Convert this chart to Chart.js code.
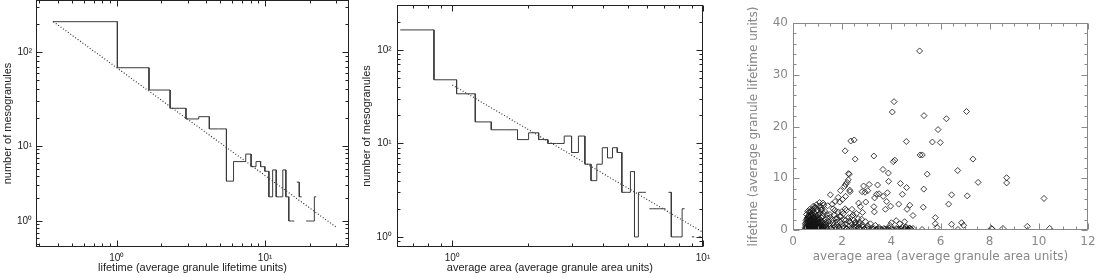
<!DOCTYPE html>
<html><head><meta charset="utf-8">
<script src="https://cdn.jsdelivr.net/npm/chart.js@4/dist/chart.umd.min.js"></script>
<style>
html,body{margin:0;padding:0;background:#fff;width:1101px;height:278px;overflow:hidden}
canvas{position:absolute;top:0}
</style></head><body>
<canvas id="c1" width="370" height="278" style="left:0"></canvas>
<canvas id="c2" width="375" height="278" style="left:355px"></canvas>
<canvas id="c3" width="361" height="278" style="left:740px"></canvas>
<script>
// ---------- DATA ----------
// Panel 1: lifetime histogram (bin edges, counts read against the axis)
const lifetimeEdges = [0.37,1.01,1.65,2.29,2.93,3.57,4.21,4.85,5.49,6.13,6.77,7.41,8.05,8.69,9.33,9.97,10.61,11.25,11.89,12.53,13.17,13.81,14.45,15.09,15.73,16.37,17.01,17.65,18.29,18.93,19.57,20.21,20.85,21.49,22.13];
const lifetimeCounts = [210,68,39.4,25.2,19.4,20.5,15.2,15.2,3.4,6.2,6.2,7.8,5.3,6.2,5.3,4.6,2.1,4.8,2.1,2.1,4.8,2.1,1,1,null,3.3,2.1,null,null,1,1,1,1,2.1];
const lifetimeFit = [[0.374,210],[30.6,0.81]];
// Panel 2: area histogram
const areaEdges = [0.62,0.845,1.04,1.235,1.43,1.625,1.82,2.015,2.21,2.405,2.6,2.795,2.99,3.185,3.38,3.575,3.77,3.965,4.16,4.355,4.55,4.745,4.94,5.135,5.33,5.525,5.72,5.915,6.11,6.305,6.5,6.695,6.89,7.085,7.28,7.475,7.67,7.865,8.06,8.255,8.45,8.645,8.84,9.035,9.23,9.425,9.62,9.815];
const areaCounts = [164,48,34,17,14,14,11,13,11,10,10,12,8,12,6,4,6,9,7,9,8,3,3,5,1,3,3,null,2,2,2,2,2,null,3,1,1,1,1,2,null,null,null,1,null,null,1];
const areaFit = [[1.0,42.3],[10,1.12]];
// Panel 3: scatter lifetime vs area
const scatterArea = [5.15,4.11,4.04,5.33,6.24,7.06,5.9,5.99,5.67,4.61,2.35,2.49,2.12,2.53,3.29,4.08,4.14,5.17,5.26,7.32,3.66,3.88,5.46,6.7,7.53,8.69,8.69,10.21,7.09,6.45,6.33,5.32,5.3,4.62,4.37,4.45,4.3,4.75,4.64,4.88,5.79,5.79,5.86,6.45,6.86,6.94,6.71,5.25,8.07,8.1,8.54,9.53,10.44,3.89,3.84,3.67,3.5,3.4,3.81,3.97,3.76,3.44,3.1,2.87,3.04,2.93,2.81,2.96,3.32,3.29,3.31,2.67,2.74,2.83,2.79,2.58,2.4,2.47,2.54,2.71,2.29,2.25,2.25,2.2,2.14,2.09,2.14,2.31,2.32,2.01,1.93,1.84,1.9,2.12,2.17,1.94,1.74,1.52,1.71,1.6,1.41,1.22,1.13,1.25,1.84,1.63,0.9,0.8,0.71,0.61,1.0,
4.2,4.34,4.54,4.6,4.74,4.88,4.0,3.95,4.45,
0.50,0.52,0.55,0.58,0.6,0.62,0.65,0.67,0.7,0.72,0.75,0.77,0.8,0.82,0.85,0.87,0.9,0.92,0.95,0.97,1.0,1.02,1.05,1.08,1.1,1.12,1.15,1.18,1.2,1.25,1.28,1.3,1.33,1.36,1.4,1.45,1.48,1.5,1.55,1.6,1.65,1.7,1.75,1.8,1.85,1.9,1.95,2.0,2.05,2.1,2.15,2.2,2.25,2.3,2.35,2.4,2.45,2.5,2.55,2.6,2.65,2.7,2.8,2.9,2.95,3.0,3.1,3.15,3.2,3.3,3.35,3.45,3.5,3.6,3.7,3.8,3.9,4.0,4.1,4.2,4.3,4.4,4.5,4.6,4.7,4.8,
0.5,0.5,0.53,0.55,0.57,0.6,0.6,0.63,0.63,0.65,0.66,0.68,0.68,0.7,0.7,0.72,0.73,0.75,0.75,0.78,0.78,0.8,0.8,0.83,0.83,0.85,0.86,0.88,0.88,0.9,0.93,0.93,0.95,0.98,0.98,1.0,1.0,1.03,1.05,1.07,1.1,1.13,1.15,1.17,1.2,1.22,1.25,1.27,1.3,1.35,1.38,1.42,1.44,1.5,1.52,1.58,1.62,1.67,1.72,1.78,1.82,1.88,1.92,1.98,2.03,2.08,2.12,2.18,2.28,2.33,2.38,2.48,2.52,2.58,2.68,2.75,2.85,2.92,3.05,3.25,3.4,3.55,3.75,3.85,4.05,4.25,4.35,4.55,4.65,4.75,
0.52,0.54,0.56,0.58,0.59,0.61,0.62,0.64,0.64,0.66,0.67,0.69,0.7,0.71,0.73,0.74,0.76,0.76,0.79,0.81,0.81,0.84,0.86,0.87,0.89,0.91,0.92,0.94,0.96,0.97,0.99,1.01,1.04,1.06,1.09,1.11,1.14,1.16,1.19,1.23,0.55,0.6,0.68,0.74,0.83,0.96,1.08,1.15];
const scatterLife = [34.6,24.8,22.8,22.1,21.5,22.9,19.4,16.9,17.0,17.1,17.2,17.4,15.3,13.7,14.3,13.2,13.5,14.5,14.5,13.7,11.7,11.0,10.8,11.5,9.2,10.1,9.1,6.1,6.6,6.8,5.0,7.9,4.4,8.2,9.0,6.9,5.0,4.8,4.0,2.8,2.4,1.2,0.5,1.1,1.4,0.9,0.1,0.1,0.3,0.2,0.3,0.7,0.3,9.4,7.2,6.5,7.0,6.9,5.5,4.6,4.0,8.7,8.8,8.5,7.6,7.3,7.4,5.4,6.2,4.5,3.5,5.2,4.5,3.4,2.1,3.2,4.0,1.9,1.5,1.5,10.8,10.9,9.7,9.2,8.8,8.4,6.5,7.7,7.4,5.9,7.6,6.3,5.4,4.1,3.8,2.6,2.2,6.8,5.5,5.0,4.7,5.2,3.9,3.2,3.5,4.1,4.4,3.8,3.5,2.5,2.9,
1.8,1.2,1.6,0.6,0.4,0.3,1.4,0.9,0.5,
0.1,0.3,0.6,0.2,1.0,0.4,1.5,0.1,0.8,2.0,0.3,1.2,0.6,2.5,0.2,1.7,0.9,3.0,0.4,1.4,0.2,2.2,0.7,1.1,3.3,0.3,1.8,0.5,2.7,1.0,0.2,3.6,1.5,0.6,2.3,0.2,1.2,3.0,0.4,2.0,0.9,3.8,0.3,1.6,0.6,2.6,0.2,1.1,3.2,0.5,1.9,0.2,2.4,0.8,1.4,0.3,2.9,0.6,1.0,0.2,2.2,0.4,0.9,0.2,1.6,0.4,0.2,1.2,0.1,0.3,0.9,0.2,0.5,0.1,0.3,0.1,0.4,0.2,0.1,0.3,0.1,0.2,0.1,0.3,0.1,0.2,
0.5,1.2,1.8,0.0,2.3,0.3,1.6,2.8,0.8,0.0,3.5,0.5,1.9,0.1,2.6,1.1,0.4,1.6,3.2,0.0,2.2,1.3,4.1,0.5,1.8,3.4,0.9,0.2,2.1,1.5,0.6,4.3,2.6,1.0,3.8,0.5,1.6,0.1,2.9,4.6,1.5,0.8,2.4,3.9,0.1,1.3,4.8,0.6,2.0,1.1,3.0,0.4,1.7,0.8,2.4,0.2,1.4,2.9,0.6,1.0,2.2,0.4,1.5,3.5,0.7,2.0,1.1,0.3,1.7,0.3,2.6,0.2,1.4,0.6,1.1,0.2,0.6,0.2,0.8,0.2,0.1,0.2,0.2,0.1,0.1,0.2,0.1,0.2,0.1,0.3,
0.9,1.4,2.0,0.7,1.3,2.2,0.0,1.1,1.9,0.6,2.4,1.3,0.5,1.7,2.9,0.9,0.1,2.0,1.5,0.3,2.9,1.1,2.3,0.4,1.4,0.1,2.0,1.2,0.3,2.4,0.8,1.9,0.4,1.4,2.1,0.6,1.0,0.2,1.6,0.7,3.0,3.6,4.0,3.6,4.6,4.9,5.3,4.4];

// ---------- HELPERS ----------
function histPoints(edges, counts){
  const pts=[];
  for(let i=0;i<counts.length;i++){
    const c=counts[i];
    if(c===null){ pts.push({x:edges[i],y:null}); continue; }
    pts.push({x:edges[i],y:c}); pts.push({x:edges[i+1],y:c});
  }
  return pts;
}
function logTicks(min,max){
  const t=[];
  for(let e=Math.floor(Math.log10(min));e<=Math.ceil(Math.log10(max));e++)
    for(let s=1;s<10;s++){const v=s*Math.pow(10,e); if(v>=min*0.999&&v<=max*1.001) t.push({value:v});}
  return t;
}
const sup={'-':'⁻','0':'⁰','1':'¹','2':'²','3':'³'};
function powLabel(v){const l=Math.log10(v); if(Math.abs(l-Math.round(l))<1e-6) return '10'+String(Math.round(l)).split('').map(c=>sup[c]).join(''); return '';}
function noPad(s){s.paddingTop=0;s.paddingBottom=0;s.paddingLeft=0;s.paddingRight=0;}

// piecewise log scale (reference axis decades are not evenly spaced)
class PwLogScale extends Chart.LogarithmicScale {
  _u(v){
    const k=this.options.knots, l=Math.log10(v);
    let i=0; while(i<k.length-2 && l>k[i+1][0]) i++;
    return k[i][1]+(l-k[i][0])/(k[i+1][0]-k[i][0])*(k[i+1][1]-k[i][1]);
  }
  getPixelForValue(v){ if(v===null||v===undefined||v<=0) return NaN; return this.getPixelForDecimal(this._u(v)); }
  getValueForPixel(p){
    const d=this.getDecimalForPixel(p), k=this.options.knots;
    let i=0; while(i<k.length-2 && d>k[i+1][1]) i++;
    return Math.pow(10,k[i][0]+(d-k[i][1])/(k[i+1][1]-k[i][1])*(k[i+1][0]-k[i][0]));
  }
}
PwLogScale.id='pwlog';
PwLogScale.defaults=Chart.LogarithmicScale.defaults;
Chart.register(PwLogScale);

const boxPlugin={
  id:'boxPlugin',
  afterDatasetsDraw(chart,args,o){
    const {ctx,chartArea:a}=chart;
    ctx.save(); ctx.strokeStyle=o.color; ctx.lineWidth=1;
    const L=Math.round(a.left)+0.5,R=Math.round(a.right)-0.5,T=Math.round(a.top)+0.5,B=Math.round(a.bottom)-0.5;
    ctx.strokeRect(L,T,R-L,B-T);
    ctx.beginPath();
    const xs=chart.scales.x, ys=chart.scales.y;
    xs.ticks.forEach(t=>{const p=Math.round(xs.getPixelForValue(t.value))+0.5; const len=o.isMajorX(t.value)?o.major:o.minor;
      ctx.moveTo(p,B);ctx.lineTo(p,B-len);ctx.moveTo(p,T);ctx.lineTo(p,T+len);});
    ys.ticks.forEach(t=>{const p=Math.round(ys.getPixelForValue(t.value))+0.5; const len=o.isMajorY(t.value)?o.major:o.minor;
      ctx.moveTo(L,p);ctx.lineTo(L+len,p);ctx.moveTo(R,p);ctx.lineTo(R-len,p);});
    ctx.stroke(); ctx.restore();
  }
};
const isPow=v=>{const l=Math.log10(v);return Math.abs(l-Math.round(l))<1e-6;};

const sansFont={family:"'Liberation Sans', Arial, sans-serif",size:11};
const tickFont={family:"'Liberation Sans', Arial, sans-serif",size:10};
const noGrid={display:false,drawTicks:false};
const base={responsive:false,animation:false,devicePixelRatio:1,events:[],
  plugins:{legend:{display:false},tooltip:{enabled:false}}};

// ---------- PANEL 1 ----------
new Chart(document.getElementById('c1'),{
  type:'line',
  data:{datasets:[
    {data:histPoints(lifetimeEdges,lifetimeCounts),borderColor:'#3a3a3a',borderWidth:1,pointRadius:0,spanGaps:false,tension:0},
    {data:lifetimeFit.map(p=>({x:p[0],y:p[1]})),borderColor:'#333',borderWidth:1.2,borderDash:[1,2],pointRadius:0}
  ]},
  options:{...base,
    layout:{padding:{top:0,right:21,bottom:0,left:0}},
    plugins:{...base.plugins,boxPlugin:{color:'#222',major:6,minor:3,isMajorX:isPow,isMajorY:isPow}},
    scales:{
      x:{type:'logarithmic',min:0.2856,max:36.8,
        afterBuildTicks:s=>{s.ticks=logTicks(s.min,s.max);},
        afterFit:s=>{s.height=31;noPad(s);},
        grid:noGrid,border:{display:false},
        ticks:{autoSkip:false,maxRotation:0,padding:5,color:'#222',font:tickFont,callback:v=>powLabel(v)},
        title:{display:true,text:'lifetime (average granule lifetime units)',color:'#222',font:sansFont,padding:{top:0,bottom:3}}},
      y:{type:'pwlog',min:0.45,max:357,
        knots:[[-0.347,0],[0,26/247],[1,101/247],[2,195/247],[2.553,1]],
        afterBuildTicks:s=>{s.ticks=logTicks(s.min,s.max);},
        afterFit:s=>{s.width=36;noPad(s);},
        grid:noGrid,border:{display:false},
        ticks:{autoSkip:false,padding:4,color:'#222',font:tickFont,callback:v=>powLabel(v)},
        title:{display:true,text:'number of mesogranules',color:'#222',font:sansFont,padding:{top:1,bottom:0}}}
    }},
  plugins:[boxPlugin]
});

// ---------- PANEL 2 ----------
new Chart(document.getElementById('c2'),{
  type:'line',
  data:{datasets:[
    {data:histPoints(areaEdges,areaCounts),borderColor:'#3a3a3a',borderWidth:1,pointRadius:0,spanGaps:false,tension:0},
    {data:areaFit.map(p=>({x:p[0],y:p[1]})),borderColor:'#333',borderWidth:1.2,borderDash:[1,2],pointRadius:0}
  ]},
  options:{...base,
    layout:{padding:{top:5,right:27,bottom:0,left:0}},
    plugins:{...base.plugins,boxPlugin:{color:'#222',major:6,minor:3,isMajorX:isPow,isMajorY:isPow}},
    scales:{
      x:{type:'logarithmic',min:0.604,max:10,
        afterBuildTicks:s=>{s.ticks=logTicks(s.min,s.max);},
        afterFit:s=>{s.height=31;noPad(s);},
        grid:noGrid,border:{display:false},
        ticks:{autoSkip:false,maxRotation:0,padding:5,color:'#222',font:tickFont,callback:v=>powLabel(v)},
        title:{display:true,text:'average area (average granule area units)',color:'#222',font:sansFont,padding:{top:0,bottom:3}}},
      y:{type:'logarithmic',min:0.78,max:303,
        afterBuildTicks:s=>{s.ticks=logTicks(s.min,s.max);},
        afterFit:s=>{s.width=41.7;noPad(s);},
        grid:noGrid,border:{display:false},
        ticks:{autoSkip:false,padding:5,color:'#222',font:tickFont,callback:v=>powLabel(v)},
        title:{display:true,text:'number of mesogranules',color:'#222',font:sansFont,padding:{top:5,bottom:0}}}
    }},
  plugins:[boxPlugin]
});

// ---------- PANEL 3 ----------
const grayFont={family:"'DejaVu Sans', sans-serif",size:12};
new Chart(document.getElementById('c3'),{
  type:'scatter',
  data:{datasets:[{data:scatterArea.map((a,i)=>({x:a,y:scatterLife[i]})),pointStyle:'rectRot',pointRadius:3,
    borderColor:'#111',borderWidth:0.8,backgroundColor:'rgba(0,0,0,0)'}]},
  options:{...base,
    layout:{padding:{top:23,right:13,bottom:0,left:0}},
    plugins:{...base.plugins,boxPlugin:{color:'#888',major:6,minor:3,
      isMajorX:v=>Math.abs(v/2-Math.round(v/2))<1e-6,isMajorY:v=>Math.abs(v/10-Math.round(v/10))<1e-6}},
    scales:{
      x:{type:'linear',min:0,max:12,
        afterBuildTicks:s=>{const t=[];for(let v=0;v<=12.0001;v+=0.5)t.push({value:v});s.ticks=t;},
        afterFit:s=>{s.height=48;noPad(s);},
        grid:noGrid,border:{display:false},
        ticks:{autoSkip:false,maxRotation:0,padding:5,color:'#888',font:grayFont,callback:v=>(Math.abs(v/2-Math.round(v/2))<1e-6?String(v):'')},
        title:{display:true,text:'average area (average granule area units)',color:'#888',font:grayFont,padding:{top:0,bottom:14}}},
      y:{type:'linear',min:0,max:40,
        afterBuildTicks:s=>{const t=[];for(let v=0;v<=40.0001;v+=2)t.push({value:v});s.ticks=t;},
        afterFit:s=>{s.width=53;noPad(s);},
        grid:noGrid,border:{display:false},
        ticks:{autoSkip:false,padding:5,color:'#888',font:grayFont,callback:v=>(v%10===0?String(v):'')},
        title:{display:true,text:'lifetime (average granule lifetime units)',color:'#888',font:grayFont,padding:{top:7,bottom:0}}}
    }},
  plugins:[boxPlugin]
});
</script>
</body></html>
